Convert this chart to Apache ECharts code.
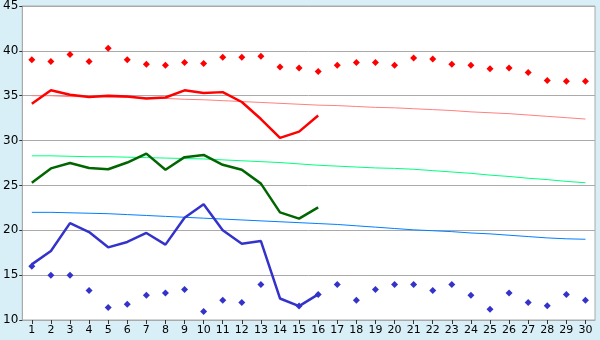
<!DOCTYPE html>
<html><head><meta charset="utf-8">
<script src="https://cdn.jsdelivr.net/npm/echarts@6/dist/echarts.min.js"></script>
<style>html,body{margin:0;padding:0;background:#d9eff7;}#c{width:600px;height:340px;}</style>
</head><body><div id="c"></div>
<script>
const days = Array.from({length:30},(_,i)=>String(i+1));
const yTicks = [10,15,20,25,30,35,40,45];
const recordHigh = [39.0,38.8,39.6,38.8,40.3,39.0,38.5,38.4,38.7,38.6,39.3,39.3,39.4,38.2,38.1,37.7,38.4,38.7,38.7,38.4,39.2,39.1,38.5,38.4,38.0,38.1,37.6,36.7,36.6,36.6];
const actualHigh = [34.1,35.6,35.1,34.85,35.0,34.9,34.7,34.8,35.6,35.3,35.4,34.3,32.4,30.3,31.0,32.8];
const normalHigh = [35.0,35.0,34.9,34.9,34.85,34.8,34.75,34.7,34.6,34.55,34.45,34.35,34.25,34.15,34.05,33.95,33.9,33.8,33.7,33.65,33.55,33.45,33.35,33.2,33.1,33.0,32.85,32.7,32.55,32.4];
const actualMean = [25.3,26.9,27.5,26.95,26.8,27.55,28.55,26.75,28.15,28.4,27.3,26.75,25.2,22.0,21.3,22.55];
const normalMean = [28.3,28.3,28.25,28.2,28.2,28.15,28.1,28.05,28.0,27.95,27.85,27.75,27.65,27.55,27.4,27.25,27.15,27.05,26.95,26.9,26.8,26.65,26.5,26.35,26.15,26.0,25.8,25.65,25.45,25.3];
const actualLow = [16.2,17.7,20.8,19.8,18.1,18.7,19.7,18.4,21.4,22.9,20.0,18.5,18.8,12.4,11.55,12.85];
const normalLow = [22.0,22.0,21.95,21.9,21.85,21.75,21.65,21.55,21.45,21.35,21.25,21.15,21.05,20.95,20.85,20.75,20.65,20.5,20.35,20.2,20.05,19.95,19.85,19.7,19.6,19.45,19.3,19.15,19.05,19.0];
const recordLow = [16.0,15.0,15.0,13.3,11.4,11.75,12.75,13.0,13.4,10.95,12.2,11.95,13.95,null,11.55,12.85,13.95,12.2,13.4,13.95,13.95,13.3,13.95,12.75,11.2,13.0,11.95,11.6,12.85,12.2];

const chart = echarts.init(document.getElementById('c'), null, {renderer:'canvas'});
const font = 'DejaVu Sans';
function line(data, color, width, z){
  return {type:'line', data, symbol:'none', smooth:false, z, lineStyle:{color, width}, itemStyle:{color}, animation:false};
}
function dots(data, color){
  return {type:'scatter', data, symbol:'diamond', symbolSize:7, itemStyle:{color, opacity:1}, z:5, animation:false};
}
chart.setOption({
  backgroundColor:'#d9eff7',
  animation:false,
  grid:{left:20, right:5, top:5, bottom:20, show:true, backgroundColor:'#ffffff', borderColor:'#aaaaaa', borderWidth:1},
  xAxis:{type:'category', data:days, boundaryGap:true,
    axisLine:{show:true, lineStyle:{color:'#aaaaaa'}},
    axisTick:{show:true, alignWithLabel:true, length:4, lineStyle:{color:'#333'}},
    axisLabel:{color:'#000', fontFamily:font, fontSize:11, margin:5, interval:0},
    splitLine:{show:false}},
  yAxis:{type:'value', min:yTicks[0], max:yTicks[yTicks.length-1], interval:5,
    axisLine:{show:true, lineStyle:{color:'#aaaaaa'}},
    axisTick:{show:true, length:3, lineStyle:{color:'#333'}},
    axisLabel:{color:'#000', fontFamily:font, fontSize:12, margin:4},
    splitLine:{show:true, lineStyle:{color:'#aaaaaa', width:1}}},
  series:[
    line(normalHigh,'#ff8080',1,2),
    line(normalMean,'#00ff80',1,2),
    line(normalLow,'#0080ff',1,2),
    line(actualHigh,'#ff0000',2.5,3),
    line(actualMean,'#006600',2.5,3),
    line(actualLow,'#3333cc',2.5,3),
    dots(recordHigh,'#ff0000'),
    dots(recordLow,'#3333cc')
  ]
});
</script></body></html>
